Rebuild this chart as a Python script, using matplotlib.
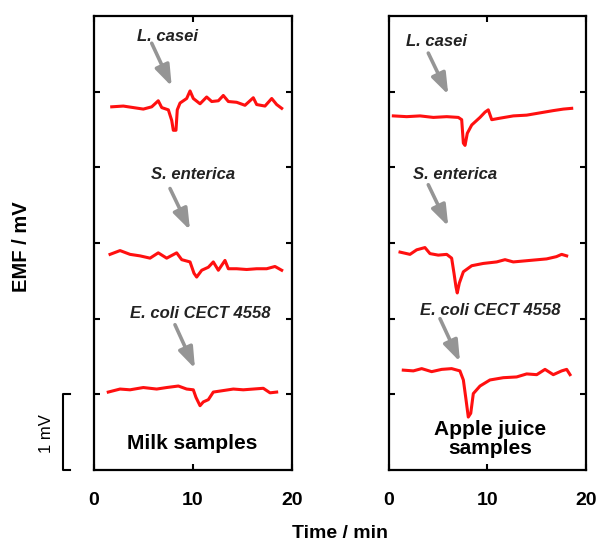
import matplotlib
matplotlib.use("Agg")
import matplotlib.pyplot as plt
import matplotlib.transforms as mtransforms

plt.rcParams['font.family'] = ['Liberation Sans', 'DejaVu Sans']

# milk samples (left panel)
milk_lcasei_t = [1.79, 2.96, 3.97, 4.98, 5.83, 6.49, 6.84, 7.51, 7.85, 8.01, 8.28, 8.41, 8.69, 9.36, 9.70,
                 10.03, 10.71, 11.38, 11.89, 12.56, 13.06, 13.57, 14.41, 15.25, 16.09, 16.43, 17.27, 17.95,
                 18.45, 18.96]
milk_lcasei_v = [4.80, 4.81, 4.79, 4.77, 4.80, 4.88, 4.79, 4.76, 4.62, 4.49, 4.49, 4.76, 4.85, 4.91, 5.01,
                 4.91, 4.84, 4.93, 4.87, 4.88, 4.95, 4.87, 4.86, 4.82, 4.92, 4.83, 4.81, 4.91, 4.83, 4.78]
milk_sent_t = [1.62, 2.63, 3.64, 4.65, 5.66, 6.49, 7.34, 8.35, 8.86, 9.70, 10.10, 10.37, 10.88, 11.55, 12.05,
               12.56, 13.23, 13.57, 14.41, 15.42, 16.43, 17.44, 18.28, 18.96]
milk_sent_v = [2.85, 2.90, 2.85, 2.83, 2.80, 2.87, 2.80, 2.87, 2.78, 2.75, 2.60, 2.55, 2.64, 2.68, 2.75,
               2.64, 2.77, 2.66, 2.66, 2.65, 2.66, 2.66, 2.69, 2.64]
milk_ecoli_t = [1.44, 2.63, 3.64, 4.98, 6.33, 7.34, 8.52, 9.36, 10.03, 10.30, 10.71, 11.04, 11.55, 12.05,
                13.06, 14.07, 15.08, 16.09, 17.10, 17.78, 18.45]
milk_ecoli_v = [1.03, 1.07, 1.06, 1.09, 1.07, 1.09, 1.11, 1.07, 1.06, 0.96, 0.85, 0.90, 0.93, 1.03,
                1.05, 1.07, 1.06, 1.07, 1.08, 1.02, 1.03]

# apple juice samples (right panel)
apple_lcasei_t = [0.44, 1.80, 3.15, 4.50, 5.86, 7.04, 7.38, 7.55, 7.72, 7.95, 8.40, 9.24, 9.75, 10.08, 10.43,
                  11.27, 12.62, 13.98, 15.33, 16.68, 17.70, 18.55]
apple_lcasei_v = [4.68, 4.67, 4.68, 4.66, 4.67, 4.66, 4.63, 4.32, 4.29, 4.45, 4.56, 4.66, 4.73, 4.76, 4.63,
                  4.65, 4.68, 4.69, 4.72, 4.75, 4.77, 4.78]
apple_sent_t = [1.12, 2.13, 2.81, 3.65, 4.16, 5.00, 5.86, 6.36, 6.60, 6.80, 6.93, 7.14, 7.55, 8.40, 9.57,
                10.93, 11.78, 12.62, 14.30, 16.00, 17.00, 17.53, 18.04]
apple_sent_v = [2.88, 2.85, 2.91, 2.94, 2.86, 2.84, 2.85, 2.80, 2.60, 2.42, 2.34, 2.47, 2.62, 2.70, 2.73,
                2.75, 2.78, 2.75, 2.77, 2.79, 2.82, 2.85, 2.83]
apple_ecoli_t = [1.45, 2.47, 3.32, 4.33, 5.35, 6.36, 7.20, 7.55, 7.82, 8.05, 8.30, 8.56, 9.24, 10.25, 11.60,
                 12.96, 13.98, 15.00, 15.84, 16.68, 17.53, 18.04, 18.38]
apple_ecoli_v = [1.32, 1.31, 1.34, 1.30, 1.33, 1.34, 1.31, 1.19, 0.93, 0.70, 0.75, 1.01, 1.11, 1.19, 1.22,
                 1.23, 1.27, 1.26, 1.33, 1.26, 1.31, 1.33, 1.26]

species = ["L. casei", "S. enterica", "E. coli CECT 4558"]

fig = plt.figure(figsize=(5.98, 5.45), dpi=100)
ax1 = fig.add_axes([0.1572, 0.1376, 0.3311, 0.833])
ax2 = fig.add_axes([0.6505, 0.1376, 0.3294, 0.833])

red = '#ff1010'
ax1.plot(milk_lcasei_t, milk_lcasei_v, color=red, lw=2.2)
ax1.plot(milk_sent_t, milk_sent_v, color=red, lw=2.2)
ax1.plot(milk_ecoli_t, milk_ecoli_v, color=red, lw=2.2)
ax2.plot(apple_lcasei_t, apple_lcasei_v, color=red, lw=2.2)
ax2.plot(apple_sent_t, apple_sent_v, color=red, lw=2.2)
ax2.plot(apple_ecoli_t, apple_ecoli_v, color=red, lw=2.2)

# label positions and arrows (tail -> tip) in data units
milk_labels = [(7.47, 5.73), (10.03, 3.90), (10.71, 2.07)]
milk_arrows = [((5.83, 5.64), (7.85, 5.07)), ((7.68, 3.72), (9.70, 3.17)), ((8.18, 1.92), (10.2, 1.34))]
apple_labels = [(4.84, 5.66), (6.70, 3.91), (10.25, 2.11)]
apple_arrows = [((3.99, 5.51), (6.02, 4.96)), ((3.99, 3.77), (6.02, 3.22)), ((5.18, 2.00), (7.21, 1.43))]

for ax, labels, arrows in [(ax1, milk_labels, milk_arrows), (ax2, apple_labels, apple_arrows)]:
    ax.set_xlim(0, 20)
    ax.set_ylim(0, 6)
    ax.set_xticks([0, 10, 20])
    ax.set_yticks([1, 2, 3, 4, 5])
    ax.set_yticklabels([])
    ax.tick_params(direction='in', length=4, width=1.5, top=True, right=True,
                   labelsize=14, pad=16)
    for lbl in ax.get_xticklabels():
        lbl.set_fontweight('bold')
    for s in ax.spines.values():
        s.set_linewidth(1.6)
    for name, (tx, ty), (tail, tip) in zip(species, labels, arrows):
        ax.text(tx, ty, name, ha='center', va='center', fontsize=12,
                fontweight='bold', fontstyle='italic', color='#222222')
        ax.annotate('', xy=tip, xytext=tail,
                    arrowprops=dict(arrowstyle='-|>,head_length=0.7,head_width=0.25',
                                    lw=2.6, color='#959595', shrinkA=0, shrinkB=0,
                                    mutation_scale=18))

ax1.text(9.87, 0.35, "Milk samples", ha='center', va='center', fontsize=15, fontweight='bold')
ax2.text(10.25, 0.41, "Apple juice\nsamples", ha='center', va='center', fontsize=15,
         fontweight='bold', linespacing=1.0)

# 1 mV scale bar
trans = mtransforms.blended_transform_factory(ax1.transAxes, ax1.transData)
ax1.plot([-0.121, -0.155, -0.155, -0.121], [1, 1, 0, 0], color='black', lw=1.5,
         transform=trans, clip_on=False)
ax1.text(-0.239, 0.48, "1 mV", rotation=90, ha='center', va='center', fontsize=12,
         transform=trans)

fig.text(0.0363, 0.547, "EMF / mV", rotation=90, ha='center', va='center',
         fontsize=14.5, fontweight='bold')
fig.text(0.5686, 0.022, "Time / min", ha='center', va='center', fontsize=14, fontweight='bold')

fig.savefig("out.png", dpi=100)
